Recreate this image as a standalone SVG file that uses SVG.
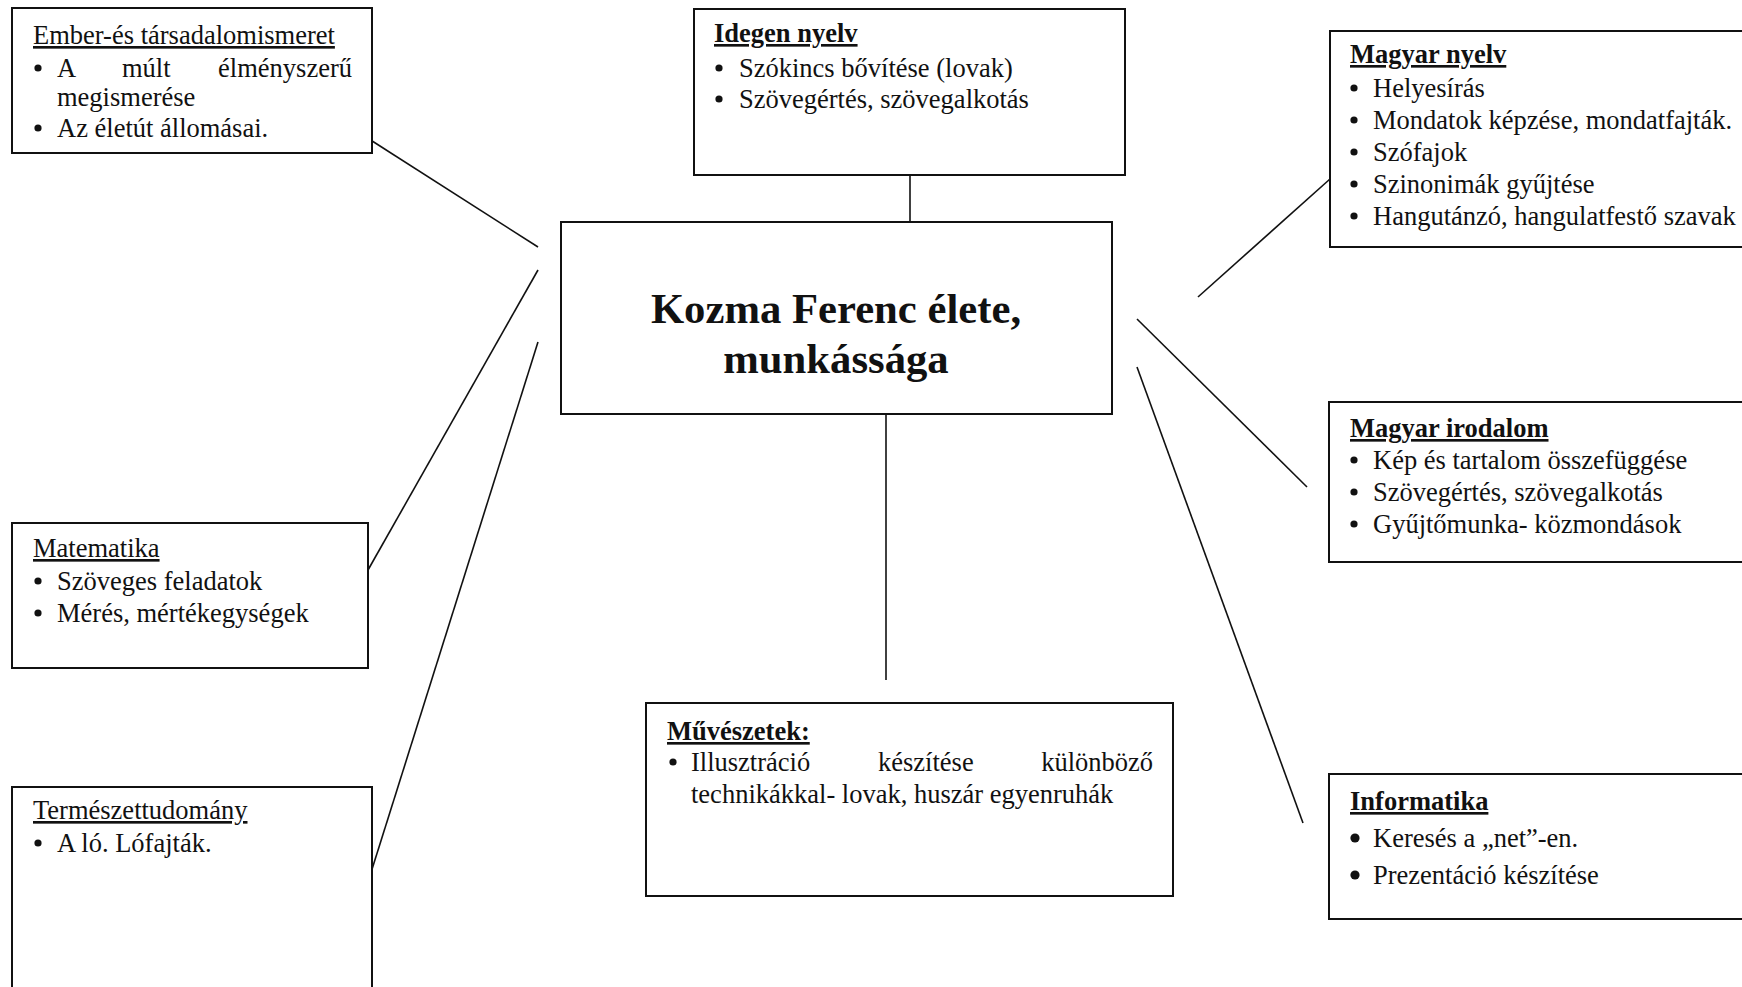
<svg xmlns="http://www.w3.org/2000/svg" width="1742" height="987" viewBox="0 0 1742 987">
<style>
  .box { fill: #fff; stroke: #111; stroke-width: 2; }
  .conn line { stroke: #111; stroke-width: 1.6; }
  text { font-family: "Liberation Serif", "Times New Roman", serif; font-size: 26.5px; fill: #111; }
  .tb { font-weight: bold; text-decoration: underline; }
  .tu { text-decoration: underline; }
  .center { font-weight: bold; font-size: 42.7px; text-anchor: middle; }
  .b { fill: #111; }
</style>
<rect width="1742" height="987" fill="#fff"/>

<g id="connectors" class="conn">
  <line x1="369" y1="139" x2="538" y2="247"/>
  <line x1="368" y1="570" x2="538" y2="270"/>
  <line x1="368" y1="882" x2="538" y2="342"/>
  <line x1="910" y1="175" x2="910" y2="222"/>
  <line x1="1198" y1="297" x2="1330" y2="179"/>
  <line x1="1137" y1="319" x2="1307" y2="487"/>
  <line x1="1137" y1="367" x2="1303" y2="823"/>
  <line x1="886" y1="414" x2="886" y2="680"/>
</g>

<g id="center">
  <rect class="box" x="561" y="222" width="551" height="192"/>
  <text class="center" x="836" y="323">Kozma Ferenc élete,</text>
  <text class="center" x="836" y="373">munkássága</text>
</g>

<g id="ember">
  <rect class="box" x="12" y="8" width="360" height="145"/>
  <text class="tu" x="33" y="44">Ember-és társadalomismeret</text>
  <circle class="b" cx="38" cy="68" r="3.6"/>
  <text x="57" y="77">A</text>
  <text x="122" y="77">múlt</text>
  <text x="352" y="77" text-anchor="end">élményszerű</text>
  <text x="57" y="106">megismerése</text>
  <circle class="b" cx="38" cy="128" r="3.6"/>
  <text x="57" y="137">Az életút állomásai.</text>
</g>

<g id="idegen">
  <rect class="box" x="694" y="9" width="431" height="166"/>
  <text class="tb" x="714" y="42">Idegen nyelv</text>
  <circle class="b" cx="719" cy="68" r="3.6"/>
  <text x="739" y="77">Szókincs bővítése (lovak)</text>
  <circle class="b" cx="719" cy="99" r="3.6"/>
  <text x="739" y="108">Szövegértés, szövegalkotás</text>
</g>

<g id="magyar-nyelv">
  <rect class="box" x="1330" y="31" width="430" height="216"/>
  <text class="tb" x="1350" y="63">Magyar nyelv</text>
  <circle class="b" cx="1354" cy="88" r="3.6"/>
  <text x="1373" y="97">Helyesírás</text>
  <circle class="b" cx="1354" cy="120" r="3.6"/>
  <text x="1373" y="129">Mondatok képzése, mondatfajták.</text>
  <circle class="b" cx="1354" cy="152" r="3.6"/>
  <text x="1373" y="161">Szófajok</text>
  <circle class="b" cx="1354" cy="184" r="3.6"/>
  <text x="1373" y="193">Szinonimák gyűjtése</text>
  <circle class="b" cx="1354" cy="216" r="3.6"/>
  <text x="1373" y="225">Hangutánzó, hangulatfestő szavak</text>
</g>

<g id="magyar-irodalom">
  <rect class="box" x="1329" y="402" width="430" height="160"/>
  <text class="tb" x="1350" y="437">Magyar irodalom</text>
  <circle class="b" cx="1354" cy="460" r="3.6"/>
  <text x="1373" y="469">Kép és tartalom összefüggése</text>
  <circle class="b" cx="1354" cy="492" r="3.6"/>
  <text x="1373" y="501">Szövegértés, szövegalkotás</text>
  <circle class="b" cx="1354" cy="524" r="3.6"/>
  <text x="1373" y="533">Gyűjtőmunka- közmondások</text>
</g>

<g id="informatika">
  <rect class="box" x="1329" y="774" width="430" height="145"/>
  <text class="tb" x="1350" y="810">Informatika</text>
  <circle class="b" cx="1355" cy="838" r="4.6"/>
  <text x="1373" y="847">Keresés a „net”-en.</text>
  <circle class="b" cx="1355" cy="875" r="4.6"/>
  <text x="1373" y="884">Prezentáció készítése</text>
</g>

<g id="muveszetek">
  <rect class="box" x="646" y="703" width="527" height="193"/>
  <text class="tb" x="667" y="740">Művészetek:</text>
  <circle class="b" cx="673" cy="762" r="3.6"/>
  <text x="691" y="771">Illusztráció</text>
  <text x="878" y="771">készítése</text>
  <text x="1153" y="771" text-anchor="end">különböző</text>
  <text x="691" y="803">technikákkal- lovak, huszár egyenruhák</text>
</g>

<g id="matematika">
  <rect class="box" x="12" y="523" width="356" height="145"/>
  <text class="tu" x="33" y="557">Matematika</text>
  <circle class="b" cx="38" cy="581" r="3.6"/>
  <text x="57" y="590">Szöveges feladatok</text>
  <circle class="b" cx="38" cy="613" r="3.6"/>
  <text x="57" y="622">Mérés, mértékegységek</text>
</g>

<g id="termeszettudomany">
  <rect class="box" x="12" y="787" width="360" height="220"/>
  <text class="tu" x="33" y="819">Természettudomány</text>
  <circle class="b" cx="38" cy="843" r="3.6"/>
  <text x="57" y="852">A ló. Lófajták.</text>
</g>
</svg>
